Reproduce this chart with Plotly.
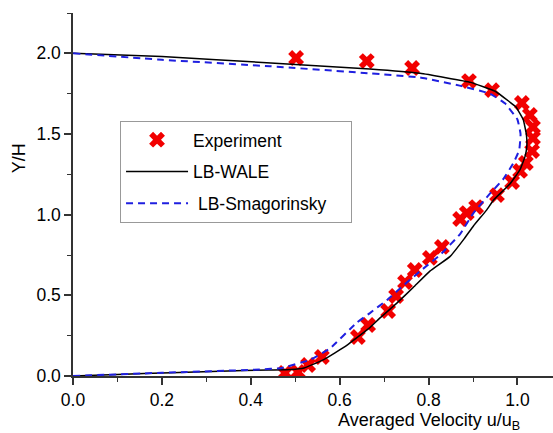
import plotly.graph_objects as go

# Experimental data (u/uB, Y/H)
exp_x = [0.502, 0.661, 0.763, 0.891, 0.943, 1.010, 1.028, 1.035, 1.035, 1.033,
         1.019, 1.006, 0.988, 0.954, 0.907, 0.886, 0.871, 0.830, 0.803, 0.769,
         0.747, 0.727, 0.709, 0.664, 0.641, 0.560, 0.529, 0.506, 0.477]
exp_y = [1.971, 1.952, 1.909, 1.828, 1.772, 1.692, 1.618, 1.543, 1.475, 1.394,
         1.320, 1.271, 1.202, 1.121, 1.047, 1.010, 0.973, 0.800, 0.732, 0.657,
         0.582, 0.496, 0.403, 0.316, 0.242, 0.118, 0.068, 0.025, 0.019]

# LB-WALE profile
wale_y = [0.0, 0.01, 0.02, 0.03, 0.037, 0.04, 0.05, 0.10, 0.19, 0.30, 0.36, 0.45,
          0.55, 0.65, 0.74, 0.85, 0.93, 1.03, 1.09, 1.19, 1.28, 1.36, 1.42, 1.50,
          1.59, 1.67, 1.70, 1.765, 1.82, 1.876, 1.903, 1.94, 1.98, 2.0]
wale_x = [0.0, 0.10, 0.22, 0.33, 0.44, 0.49, 0.52, 0.563, 0.616, 0.668, 0.691, 0.728,
          0.766, 0.803, 0.848, 0.880, 0.901, 0.931, 0.946, 0.983, 1.006, 1.017, 1.021, 1.020,
          1.013, 0.996, 0.982, 0.950, 0.895, 0.781, 0.668, 0.445, 0.200, 0.0]

# LB-Smagorinsky profile
smag_y = [0.0, 0.02, 0.04, 0.05, 0.10, 0.17, 0.33, 0.39, 0.47, 0.56, 0.65, 0.75,
          0.88, 1.01, 1.13, 1.22, 1.32, 1.40, 1.50, 1.59, 1.69, 1.75, 1.80, 1.85,
          1.876, 1.92, 1.96, 2.0]
smag_x = [0.0, 0.20, 0.42, 0.47, 0.533, 0.578, 0.638, 0.668, 0.706, 0.743, 0.781, 0.826,
          0.871, 0.901, 0.938, 0.968, 0.991, 1.004, 1.007, 1.000, 0.972, 0.938, 0.870, 0.781,
          0.668, 0.443, 0.200, 0.0]

FONT = "Liberation Sans, Arial, Helvetica, sans-serif"

fig = go.Figure()
fig.add_trace(go.Scatter(x=exp_x, y=exp_y, mode="markers", name="Experiment",
                         legendgroup="a",
                         marker=dict(symbol="x", size=14, color="#f20000",
                                     line=dict(width=0))))
fig.add_trace(go.Scatter(x=wale_x, y=wale_y, mode="lines", name="LB-WALE",
                         legendgroup="b",
                         line=dict(color="black", width=1.5, shape="spline", smoothing=0.3)))
fig.add_trace(go.Scatter(x=smag_x, y=smag_y, mode="lines",
                         name=" LB-Smagorinsky&nbsp;&nbsp;&nbsp;&nbsp;",
                         legendgroup="c",
                         line=dict(color="#1f1fe0", width=2, dash="7px,5px",
                                   shape="spline", smoothing=0.3)))

axis_common = dict(showline=True, linecolor="#333333", linewidth=1.5,
                   ticks="outside", ticklen=7, tickwidth=1.5, tickcolor="#333333",
                   showgrid=False, zeroline=False, mirror=False,
                   tickfont=dict(family=FONT, size=17.5, color="black"))

fig.update_xaxes(range=[0, 1.08], tick0=0, dtick=0.2, tickformat=".1f",
                 minor=dict(ticks="outside", ticklen=4, dtick=0.1, tick0=0,
                            tickcolor="#333333", tickwidth=1.2),
                 **axis_common)
fig.update_yaxes(range=[0, 2.25], tick0=0, dtick=0.5, tickformat=".1f",
                 minor=dict(ticks="outside", ticklen=4, dtick=0.25, tick0=0,
                            tickcolor="#333333", tickwidth=1.2),
                 **axis_common)

fig.update_layout(
    width=553, height=433,
    margin=dict(l=73, r=0, t=13, b=57),
    plot_bgcolor="white", paper_bgcolor="white",
    font=dict(family=FONT, size=18, color="black"),
    showlegend=True,
    legend=dict(x=0.098, y=0.703, xanchor="left", yanchor="top",
                bordercolor="#999999", borderwidth=1, bgcolor="white",
                font=dict(family=FONT, size=17.5), itemwidth=62,
                traceorder="grouped", tracegroupgap=6),
    annotations=[
        dict(text="Averaged Velocity u/u<sub>B</sub>", xref="paper", yref="paper",
             x=0.742, y=-0.124, xanchor="center", yanchor="middle", showarrow=False,
             font=dict(family=FONT, size=18)),
        dict(text="Y/H", xref="paper", yref="paper", x=-0.1125, y=0.60,
             xanchor="center", yanchor="middle", textangle=-90, showarrow=False,
             font=dict(family=FONT, size=18)),
    ],
)

fig.write_html("out.html")
